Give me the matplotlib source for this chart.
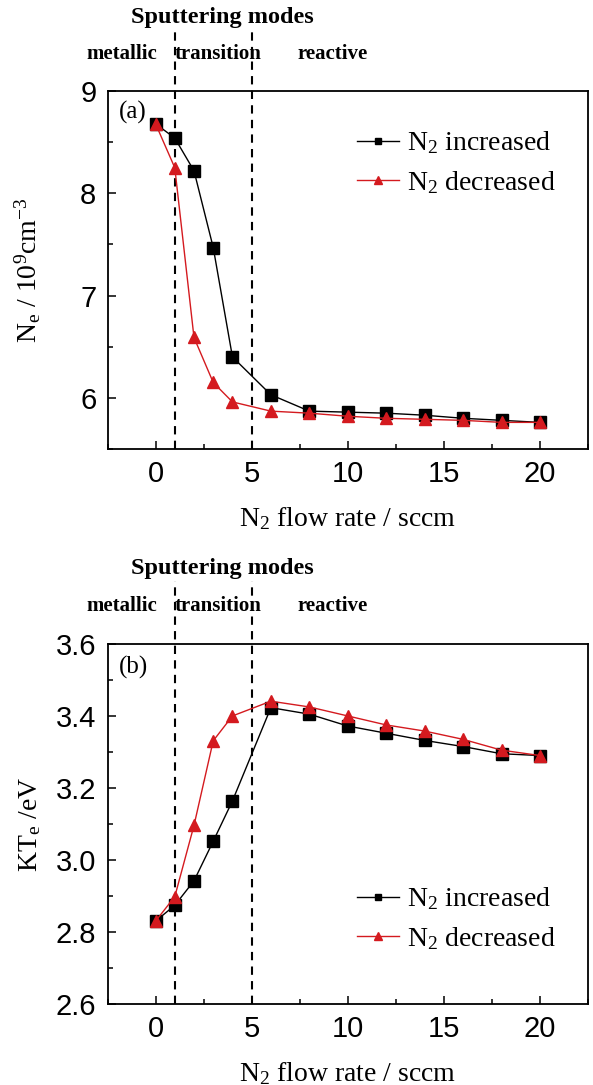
import matplotlib
matplotlib.use("Agg")
import matplotlib.pyplot as plt
from matplotlib.ticker import MultipleLocator, FormatStrFormatter

flow = [0, 1, 2, 3, 4, 6, 8, 10, 12, 14, 16, 18, 20]

ne_inc = [8.68, 8.54, 8.22, 7.47, 6.40, 6.03, 5.87, 5.86, 5.85, 5.83, 5.80, 5.78, 5.76]
ne_dec = [8.68, 8.25, 6.59, 6.15, 5.96, 5.87, 5.85, 5.82, 5.80, 5.79, 5.78, 5.76, 5.76]

te_inc = [2.83, 2.874, 2.942, 3.052, 3.164, 3.423, 3.405, 3.372, 3.352, 3.332, 3.315, 3.295, 3.290]
te_dec = [2.83, 2.898, 3.096, 3.331, 3.400, 3.441, 3.425, 3.400, 3.375, 3.358, 3.335, 3.305, 3.290]

mode_bounds = [1, 5]
mode_names = ["metallic", "transition", "reactive"]
mode_x = [-3.6, 1.0, 7.4]

RED = "#d41a1f"
SERIF = "Liberation Serif"
SANS = "Liberation Sans"

plt.rcParams["mathtext.fontset"] = "custom"
plt.rcParams["mathtext.rm"] = SERIF
plt.rcParams["mathtext.it"] = SERIF + ":italic"
plt.rcParams["mathtext.bf"] = SERIF + ":bold"

fig = plt.figure(figsize=(5.93, 10.85), dpi=100)
ax1 = fig.add_axes([0.1813, 0.5862, 0.8103, 0.3299])
ax2 = fig.add_axes([0.1813, 0.0747, 0.8103, 0.3318])


def style(ax, ylim, major, minor):
    ax.set_xlim(-2.5, 22.5)
    ax.set_ylim(*ylim)
    ax.xaxis.set_major_locator(MultipleLocator(5))
    ax.xaxis.set_minor_locator(MultipleLocator(2.5))
    ax.yaxis.set_major_locator(MultipleLocator(major))
    ax.yaxis.set_minor_locator(MultipleLocator(minor))
    ax.tick_params(which="both", direction="in", top=False, right=False)
    ax.tick_params(which="major", length=6, width=1.1, labelsize=21, pad=8)
    ax.tick_params(which="minor", length=3.5, width=1.1)
    for sp in ax.spines.values():
        sp.set_linewidth(1.3)
    ax.set_xlabel(r"N$_\mathrm{2}$ flow rate / sccm", family=SERIF, fontsize=20,
                  labelpad=12)


def fix_ticks(ax):
    for lab in ax.get_xticklabels() + ax.get_yticklabels():
        lab.set_fontfamily(SANS)


def modes(ax, top_line, y_modes, y_title):
    y0 = ax.get_ylim()[0]
    for b in mode_bounds:
        ax.plot([b, b], [y0, top_line], color="black", lw=1.5, ls=(0, (4, 3)),
                clip_on=False, zorder=1)
    ax.text(3.5, y_title, "Sputtering modes", family=SERIF, fontweight="bold",
            fontsize=17.5, ha="center", va="center", clip_on=False)
    for x, name in zip(mode_x, mode_names):
        ax.text(x, y_modes, name, family=SERIF, fontweight="bold",
                fontsize=15, ha="left", va="center", clip_on=False)


def add_legend(ax, loc, anchor):
    ax.legend(loc=loc, bbox_to_anchor=anchor, frameon=False,
              prop={"family": SERIF, "size": 20}, handlelength=1.5,
              markerscale=0.6, handletextpad=0.3, labelspacing=0.45)


style(ax1, (5.5, 9.0), 1, 0.5)
fix_ticks(ax1)
ax1.plot(flow, ne_inc, color="black", lw=1, marker="s", ms=8,
         label=r"N$_\mathrm{2}$ increased", zorder=3)
ax1.plot(flow, ne_dec, color=RED, lw=1, marker="^", ms=9,
         label=r"N$_\mathrm{2}$ decreased", zorder=4)
ax1.set_ylabel(r"N$_\mathrm{e}$ / 10$^\mathrm{9}$cm$^\mathrm{-3}$", family=SERIF,
               fontsize=20)
ax1.yaxis.set_label_coords(-0.135, 0.5)
ax1.text(-1.9, 8.79, "(a)", family=SERIF, fontsize=18, ha="left", va="center")
modes(ax1, 9.6, 9.36, 9.72)
add_legend(ax1, "upper right", (0.985, 0.962))

style(ax2, (2.6, 3.6), 0.2, 0.1)
ax2.yaxis.set_major_formatter(FormatStrFormatter("%.1f"))
fix_ticks(ax2)
ax2.plot(flow, te_inc, color="black", lw=1, marker="s", ms=8,
         label=r"N$_\mathrm{2}$ increased", zorder=3)
ax2.plot(flow, te_dec, color=RED, lw=1, marker="^", ms=9,
         label=r"N$_\mathrm{2}$ decreased", zorder=4)
ax2.set_ylabel(r"KT$_\mathrm{e}$ /eV", family=SERIF, fontsize=20)
ax2.yaxis.set_label_coords(-0.135, 0.5)
ax2.text(-1.9, 3.535, "(b)", family=SERIF, fontsize=18, ha="left", va="center")
modes(ax2, 3.775, 3.705, 3.81)
add_legend(ax2, "lower right", (0.985, 0.075))

fig.savefig("out.png", dpi=100)
